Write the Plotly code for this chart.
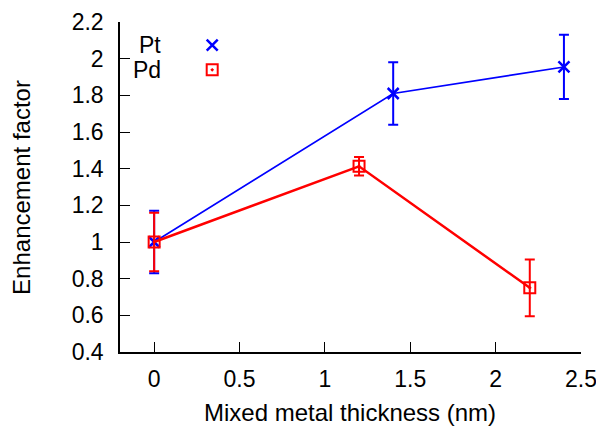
import plotly.graph_objects as go

# Data
pt_x = [0, 1.4, 2.4]
pt_y = [1.0, 1.81, 1.955]
pt_err_plus = [0.17, 0.17, 0.175]
pt_err_minus = [0.17, 0.17, 0.175]

pd_x = [0, 1.2, 2.2]
pd_y = [1.0, 1.413, 0.75]
pd_err_plus = [0.16, 0.05, 0.155]
pd_err_minus = [0.16, 0.05, 0.155]

x_ticks = [0, 0.5, 1, 1.5, 2, 2.5]
y_ticks = [0.4, 0.6, 0.8, 1.0, 1.2, 1.4, 1.6, 1.8, 2.0, 2.2]
x_ticktext = ["0", "0.5", "1", "1.5", "2", "2.5"]
y_ticktext = ["0.4", "0.6", "0.8", "1", "1.2", "1.4", "1.6", "1.8", "2", "2.2"]

BLUE = "#0000ff"
RED = "#ff0000"
FONT = "Liberation Sans, Arial, sans-serif"
FS = 23
TFS = 24

fig = go.Figure()

fig.add_trace(go.Scatter(
    x=pt_x, y=pt_y, mode="lines+markers", name="Pt",
    line=dict(color=BLUE, width=1.6),
    marker=dict(symbol="x-thin-open", size=11, color=BLUE, line=dict(color=BLUE, width=2.5)),
    error_y=dict(type="data", symmetric=False, array=pt_err_plus, arrayminus=pt_err_minus,
                 color=BLUE, thickness=2, width=5),
    showlegend=False,
))
fig.add_trace(go.Scatter(
    x=pd_x, y=pd_y, mode="lines+markers", name="Pd",
    line=dict(color=RED, width=2.5),
    marker=dict(symbol="square-open-dot", size=11, color=RED, line=dict(color=RED, width=2)),
    error_y=dict(type="data", symmetric=False, array=pd_err_plus, arrayminus=pd_err_minus,
                 color=RED, thickness=2, width=5),
    showlegend=False,
))

# legend keys on an overlay axis
fig.add_trace(go.Scatter(
    x=[0.2], y=[0.93], xaxis="x2", yaxis="y2", mode="markers", showlegend=False,
    marker=dict(symbol="x-thin-open", size=11, color=BLUE, line=dict(color=BLUE, width=2.5)),
    hoverinfo="skip",
))
fig.add_trace(go.Scatter(
    x=[0.2], y=[0.855], xaxis="x2", yaxis="y2", mode="markers", showlegend=False,
    marker=dict(symbol="square-open-dot", size=11, color=RED, line=dict(color=RED, width=2)),
    hoverinfo="skip",
))

fig.add_annotation(x=0.093, y=0.93, xref="paper", yref="paper", text="Pt", showarrow=False,
                   xanchor="right", yanchor="middle", font=dict(family=FONT, size=FS, color="black"))
fig.add_annotation(x=0.093, y=0.855, xref="paper", yref="paper", text="Pd", showarrow=False,
                   xanchor="right", yanchor="middle", font=dict(family=FONT, size=FS, color="black"))

# axis titles
fig.add_annotation(x=0.4993, y=-0.183, xref="paper", yref="paper", text="Mixed metal thickness (nm)",
                   showarrow=False, xanchor="center", yanchor="middle",
                   font=dict(family=FONT, size=TFS, color="black"))
fig.add_annotation(x=-0.215, y=0.5, xref="paper", yref="paper", text="Enhancement factor",
                   showarrow=False, xanchor="center", yanchor="middle", textangle=-90,
                   font=dict(family=FONT, size=TFS, color="black"))

fig.update_layout(
    width=596, height=418,
    margin=dict(l=112, r=23, t=14, b=74),
    plot_bgcolor="white", paper_bgcolor="white",
    font=dict(family=FONT, size=FS, color="black"),
    xaxis=dict(
        range=[-0.2, 2.5], tickvals=x_ticks, ticktext=x_ticktext,
        showgrid=False, zeroline=False, showline=True, linecolor="black", linewidth=1.5,
        ticks="inside", ticklen=10, tickwidth=1.2, tickcolor="black",
        tickfont=dict(size=FS), automargin=False, ticklabelstandoff=6,
    ),
    yaxis=dict(
        range=[0.4, 2.2], tickvals=y_ticks, ticktext=y_ticktext,
        showgrid=False, zeroline=False, showline=True, linecolor="black", linewidth=1.5,
        ticks="inside", ticklen=10, tickwidth=1.2, tickcolor="black",
        tickfont=dict(size=FS), automargin=False, ticklabelstandoff=10,
    ),
    xaxis2=dict(overlaying="x", range=[0, 1], visible=False),
    yaxis2=dict(overlaying="y", range=[0, 1], visible=False),
)

fig.write_html("out.html")
